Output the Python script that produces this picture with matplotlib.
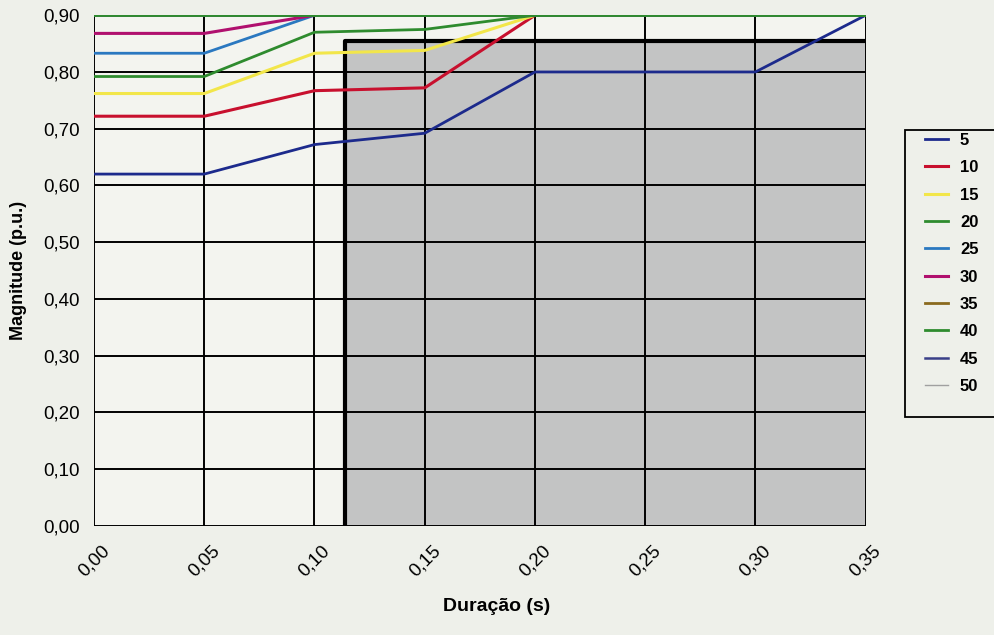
import numpy as np
from matplotlib import pyplot as plt
from matplotlib import font_manager
from matplotlib.patches import Rectangle

# === DATA ===
durations = [0.00, 0.05, 0.10, 0.15, 0.20, 0.25, 0.30, 0.35]
x_labels = ["0,00", "0,05", "0,10", "0,15", "0,20", "0,25", "0,30", "0,35"]
y_values = [0.0, 0.1, 0.2, 0.3, 0.4, 0.5, 0.6, 0.7, 0.8, 0.9]
y_labels = ["0,00", "0,10", "0,20", "0,30", "0,40", "0,50", "0,60", "0,70", "0,80", "0,90"]

mag_5 = [0.620, 0.620, 0.672, 0.692, 0.800, 0.800, 0.800, 0.900]
mag_10 = [0.722, 0.722, 0.767, 0.772, 0.900, 0.900, 0.900, 0.900]
mag_15 = [0.762, 0.762, 0.833, 0.838, 0.900, 0.900, 0.900, 0.900]
mag_20 = [0.792, 0.792, 0.870, 0.875, 0.900, 0.900, 0.900, 0.900]
mag_25 = [0.833, 0.833, 0.900, 0.900, 0.900, 0.900, 0.900, 0.900]
mag_30 = [0.868, 0.868, 0.900, 0.900, 0.900, 0.900, 0.900, 0.900]
mag_35 = [0.900, 0.900, 0.900, 0.900, 0.900, 0.900, 0.900, 0.900]
mag_40 = [0.900, 0.900, 0.900, 0.900, 0.900, 0.900, 0.900, 0.900]
mag_45 = [0.900, 0.900, 0.900, 0.900, 0.900, 0.900, 0.900, 0.900]
mag_50 = [0.900, 0.900, 0.900, 0.900, 0.900, 0.900, 0.900, 0.900]

series_names = ["5", "10", "15", "20", "25", "30", "35", "40", "45", "50"]
series_values = [mag_5, mag_10, mag_15, mag_20, mag_25, mag_30, mag_35, mag_40, mag_45, mag_50]
series_colors = ["#1c2a8c", "#c8102e", "#f2e64a", "#2e8b2e", "#2a78c0",
                 "#b0106e", "#8a6a1e", "#2e8b2e", "#3a3f88", "#a0a0a0"]
series_widths = [2.0, 2.2, 2.2, 2.0, 2.0, 2.2, 2.0, 2.0, 1.8, 1.0]

# shaded region (duration >= ~0.114 s, magnitude <= 0.855)
region_x0 = 0.114
region_x1 = 0.35
region_top = 0.855

# === FONTS ===
installed = {f.name for f in font_manager.fontManager.ttflist}
narrow = 'Liberation Sans Narrow' if 'Liberation Sans Narrow' in installed else 'Liberation Sans'
plt.rcParams['font.family'] = ['Liberation Sans', 'DejaVu Sans']

# === PLOT ===
bg = "#eef0ea"
fig = plt.figure(figsize=(9.95, 6.35), dpi=100, facecolor=bg)
ax = fig.add_axes([0.0945, 0.172, 0.7755, 0.804])
ax.set_facecolor("#f3f4ef")

ax.add_patch(Rectangle((region_x0, 0), region_x1 - region_x0, region_top,
                       facecolor="#c3c4c4", edgecolor="none", zorder=1))

for v in durations:
    ax.axvline(v, color="black", lw=1.4, zorder=2)
for h in y_values:
    ax.axhline(h, color="black", lw=1.4, zorder=2)

# thick border of shaded region
ax.plot([region_x0, region_x0, region_x1], [0, region_top, region_top],
        color="black", lw=3, zorder=3, solid_capstyle="butt")

for name, vals, col, lw in zip(series_names, series_values, series_colors, series_widths):
    z = 6 if name == "40" else 4
    ax.plot(durations, vals, color=col, lw=lw, label=name, zorder=z)

ax.set_xlim(0, 0.35)
ax.set_ylim(0, 0.90)
ax.set_xticks(durations)
ax.set_xticklabels(x_labels, rotation=45, ha="center", va="top", fontsize=13.5)
ax.set_yticks(y_values)
ax.set_yticklabels(y_labels, fontsize=13.5)
ax.tick_params(axis="x", length=0, pad=12)
ax.tick_params(axis="y", length=0, pad=10)
for s in ax.spines.values():
    s.set_visible(False)

ax.set_xlabel("Duração (s)", fontsize=14, fontweight="bold")
ax.xaxis.set_label_coords(0.522, -0.141)
ax.set_ylabel("Magnitude (p.u.)", fontsize=13, fontweight="bold")
ax.yaxis.set_label_coords(-0.087, 0.5)

# legend box runs off the right edge of the picture
fig.add_artist(Rectangle((0.9095, 0.3433), 0.12, 0.452, transform=fig.transFigure,
                         facecolor=bg, edgecolor="black", lw=1.3, zorder=0))
leg = ax.legend(loc="upper left", bbox_to_anchor=(0.9296, 0.7906),
                bbox_transform=fig.transFigure, frameon=False,
                prop={'family': [narrow, 'DejaVu Sans'], 'weight': 'bold', 'size': 12},
                handlelength=1.4, handletextpad=0.7, labelspacing=0.74,
                borderpad=0, borderaxespad=0)

plt.savefig("out.png", dpi=100, facecolor=bg)
